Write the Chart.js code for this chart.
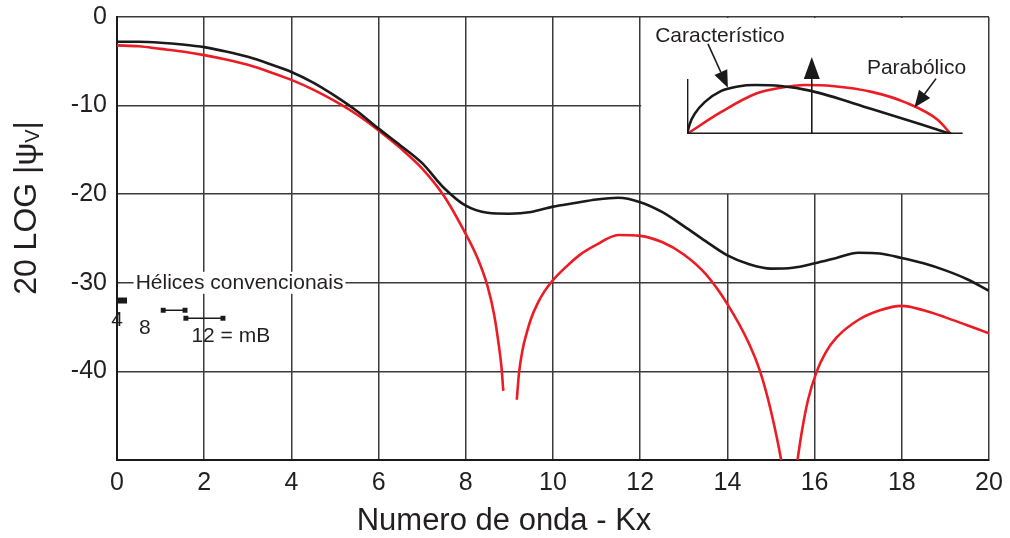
<!DOCTYPE html>
<html>
<head>
<meta charset="utf-8">
<script src="https://cdn.jsdelivr.net/npm/chart.js@4.4.0/dist/chart.umd.min.js"></script>
<style>
  body { margin: 0; background: #fff; }
  #wrap { position: relative; width: 1010px; height: 538px; }
  #inset { position: absolute; }
</style>
</head>
<body>
<div id="wrap">
  <canvas id="main" width="1010" height="538"></canvas>
  <canvas id="inset" width="347" height="176"></canvas>
</div>
<script>
const FONT = '"Liberation Sans", Arial, sans-serif';

// main curves (Kx, dB)
const kxBlack = [0, 0.5, 1, 1.5, 2, 2.5, 3, 3.5, 4, 4.5, 5, 5.5, 6, 6.5, 7, 7.5, 8, 8.5, 9, 9.5, 10, 10.5, 11, 11.5, 12, 12.5, 13, 13.5, 14, 14.5, 15, 15.5, 16, 16.5, 17, 17.5, 18, 18.5, 19, 19.5, 20];
const dbBlack = [-2.8, -2.8, -2.9, -3.1, -3.4, -3.9, -4.5, -5.3, -6.2, -7.4, -8.9, -10.6, -12.6, -14.5, -16.5, -19.3, -21.3, -22.1, -22.2, -22.0, -21.4, -21.0, -20.6, -20.4, -20.9, -22.0, -23.6, -25.3, -26.9, -27.9, -28.4, -28.3, -27.8, -27.2, -26.6, -26.7, -27.2, -27.8, -28.6, -29.6, -30.9];

const kxRed = [0, 0.5, 1, 1.5, 2, 2.5, 3, 3.5, 4, 4.5, 5, 5.5, 6, 6.5, 7, 7.5, 8, 8.25, 8.5, 8.65, 8.75, 8.82, 8.86, 9.0,
  9.17, 9.22, 9.3, 9.4, 9.5, 9.65, 9.8, 10, 10.3, 10.6, 11, 11.5, 12, 12.5, 13, 13.5, 14, 14.5, 14.75, 15, 15.25, 15.35, 15.5,
  15.6, 15.7, 15.85, 16.05, 16.25, 16.5, 17, 17.5, 18, 18.5, 19, 19.5, 20];
const dbRed = [-3.2, -3.3, -3.6, -3.9, -4.3, -4.8, -5.4, -6.2, -7.1, -8.2, -9.5, -11.0, -12.8, -14.8, -17.1, -20.2, -24.5, -27.0, -30.4, -33.6, -36.8, -39.6, -42.2, null,
  -43.2, -40.2, -37.6, -35.6, -34.0, -32.3, -31.0, -29.7, -28.2, -26.9, -25.7, -24.6, -24.7, -25.4, -26.8, -29.0, -32.4, -36.9, -40, -44.5, -50.5, -54, -54,
  -50.3, -47.0, -43.2, -40.0, -37.9, -36.2, -34.2, -33.1, -32.6, -33.1, -33.9, -34.8, -35.7];

// "Hélices convencionais" key marks
const keyBar = [[0, -32], [0.23, -32]];
const keySeg8 = [[1.06, -33.1], [1.56, -33.1]];
const keySeg12 = [[1.58, -34.0], [2.43, -34.0]];

const xTicks = [0, 2, 4, 6, 8, 10, 12, 14, 16, 18, 20];
const yTicks = [0, -10, -20, -30, -40];

// inset schematic (normalised aperture position, amplitude)
const insetXChar = [0, 0.01, 0.029, 0.067, 0.13, 0.193, 0.258, 0.356, 0.47, 0.70, 0.886, 1.0];
const insetYChar = [0, 0.2, 0.41, 0.65, 0.88, 0.97, 1.0, 0.98, 0.88, 0.51, 0.20, 0];
const insetXPar = [0, 0.13, 0.26, 0.35, 0.45, 0.55, 0.7, 0.83, 0.95, 1.0];
const insetYPar = [0, 0.45, 0.82, 0.94, 1.0, 0.98, 0.86, 0.64, 0.29, 0];

const toPts = (xs, ys) => xs.map((x, i) => ({x: x, y: ys[i]}));
const pairPts = arr => arr.map(p => ({x: p[0], y: p[1]}));

const mainDecor = {
  id: 'mainDecor',
  beforeDatasetsDraw(chart) {
    const ctx = chart.ctx, x = chart.scales.x, y = chart.scales.y;
    ctx.save();
    ctx.fillStyle = '#fff';
    // blank area behind inset
    const l = x.getPixelForValue(12) + 1, r = x.getPixelForValue(20) - 1;
    const t = y.getPixelForValue(0) + 1, b = y.getPixelForValue(-20) - 1;
    ctx.fillRect(l, t, r - l, b - t);
    // blank box behind key title
    ctx.font = '21px ' + FONT;
    const w = ctx.measureText('Hélices convencionais').width;
    const cx = x.getPixelForValue(2.81), cy = y.getPixelForValue(-30);
    ctx.fillRect(cx - w / 2 - 2, cy - 11, w + 4, 22);
    ctx.restore();
  },
  afterDatasetsDraw(chart) {
    const ctx = chart.ctx, x = chart.scales.x, y = chart.scales.y;
    ctx.save();
    ctx.fillStyle = '#231f20';
    ctx.textAlign = 'center';
    ctx.textBaseline = 'middle';
    ctx.font = '21px ' + FONT;
    ctx.fillText('Hélices convencionais', x.getPixelForValue(2.81), y.getPixelForValue(-30));
    ctx.fillText('4', x.getPixelForValue(0), y.getPixelForValue(-34.2));
    ctx.fillText('8', x.getPixelForValue(0.64), y.getPixelForValue(-35.1));
    ctx.fillText('12 = mB', x.getPixelForValue(2.61), y.getPixelForValue(-36.0));
    ctx.restore();
  },
  afterDraw(chart) {
    const ctx = chart.ctx;
    ctx.save();
    ctx.fillStyle = '#231f20';
    ctx.textBaseline = 'middle';
    ctx.textAlign = 'center';
    ctx.font = '31px ' + FONT;
    ctx.fillText('Numero de onda - Kx', 504, 521);
    // y title with subscript
    ctx.translate(27, 208);
    ctx.rotate(-Math.PI / 2);
    const big = '32px ' + FONT, small = '20px ' + FONT;
    const p1 = '20 LOG |\u03c8', p2 = 'V', p3 = '|';
    ctx.font = big; const w1 = ctx.measureText(p1).width, w3 = ctx.measureText(p3).width;
    ctx.font = small; const w2 = ctx.measureText(p2).width;
    let sx = -(w1 + w2 + w3) / 2;
    ctx.textAlign = 'left';
    ctx.font = big; ctx.fillText(p1, sx, 0); sx += w1;
    ctx.font = small; ctx.fillText(p2, sx, 6); sx += w2;
    ctx.font = big; ctx.fillText(p3, sx, 0);
    ctx.restore();
  }
};

const mainChart = new Chart(document.getElementById('main').getContext('2d'), {
  type: 'line',
  data: {
    datasets: [
      {
        label: 'Característico',
        data: toPts(kxBlack, dbBlack),
        borderColor: '#1a1a1a',
        borderWidth: 2.6,
        pointRadius: 0,
        cubicInterpolationMode: 'monotone'
      },
      {
        label: 'Parabólico',
        data: toPts(kxRed, dbRed),
        borderColor: '#ec1c24',
        borderWidth: 2.6,
        pointRadius: 0,
        spanGaps: false,
        cubicInterpolationMode: 'monotone'
      },
      {
        label: 'mB 4',
        data: pairPts(keyBar),
        borderColor: '#1a1a1a',
        borderWidth: 6,
        borderCapStyle: 'butt',
        pointRadius: 0
      },
      {
        label: 'mB 8',
        data: pairPts(keySeg8),
        borderColor: '#1a1a1a',
        borderWidth: 1.5,
        pointStyle: 'rect',
        pointRadius: 3.5,
        pointBackgroundColor: '#1a1a1a',
        pointBorderWidth: 0
      },
      {
        label: 'mB 12',
        data: pairPts(keySeg12),
        borderColor: '#1a1a1a',
        borderWidth: 1.5,
        pointStyle: 'rect',
        pointRadius: 3.5,
        pointBackgroundColor: '#1a1a1a',
        pointBorderWidth: 0
      }
    ]
  },
  options: {
    responsive: false,
    animation: false,
    layout: { padding: { left: 0, right: 21, top: 17, bottom: 0 } },
    plugins: {
      legend: { display: false },
      tooltip: { enabled: false }
    },
    scales: {
      x: {
        type: 'linear',
        min: 0,
        max: 20,
        afterBuildTicks: s => { s.ticks = xTicks.map(v => ({value: v})); },
        afterFit: s => { s.height = 78; s.paddingLeft = 0; s.paddingRight = 0; },
        grid: { color: '#3a3a3a', lineWidth: 1.5, drawTicks: false },
        border: { color: '#1a1a1a', width: 2 },
        ticks: { color: '#231f20', font: { family: FONT, size: 25 }, padding: 8, maxRotation: 0 }
      },
      y: {
        type: 'linear',
        min: -50,
        max: 0,
        afterBuildTicks: s => { s.ticks = yTicks.concat([-50]).map(v => ({value: v})); },
        afterFit: s => { s.width = 117; s.paddingTop = 0; s.paddingBottom = 0; },
        grid: { color: '#3a3a3a', lineWidth: 1.5, drawTicks: false },
        border: { color: '#1a1a1a', width: 2 },
        ticks: {
          color: '#231f20',
          font: { family: FONT, size: 25 },
          padding: 10,
          callback: v => (yTicks.includes(v) ? String(v) : '')
        }
      }
    }
  },
  plugins: [mainDecor]
});

// place inset over the blank box
const mx = mainChart.scales.x, my = mainChart.scales.y;
const insetEl = document.getElementById('inset');
insetEl.style.left = mx.getPixelForValue(12) + 'px';
insetEl.style.top = my.getPixelForValue(0) + 'px';

function arrow(ctx, x0, y0, x1, y1, len, half) {
  const a = Math.atan2(y1 - y0, x1 - x0);
  const bx = x1 - len * Math.cos(a), by = y1 - len * Math.sin(a);
  ctx.beginPath();
  ctx.moveTo(x0, y0);
  ctx.lineTo(bx, by);
  ctx.stroke();
  ctx.beginPath();
  ctx.moveTo(x1, y1);
  ctx.lineTo(bx + half * Math.sin(a), by - half * Math.cos(a));
  ctx.lineTo(bx - half * Math.sin(a), by + half * Math.cos(a));
  ctx.closePath();
  ctx.fill();
}

const insetDecor = {
  id: 'insetDecor',
  afterDatasetsDraw(chart) {
    const ctx = chart.ctx, x = chart.scales.x, y = chart.scales.y;
    const px = v => x.getPixelForValue(v), py = v => y.getPixelForValue(v);
    ctx.save();
    ctx.strokeStyle = '#1a1a1a';
    ctx.fillStyle = '#1a1a1a';
    ctx.lineWidth = 1.6;
    arrow(ctx, px(0.473), py(0), px(0.473), py(1.57), 22, 8);
    arrow(ctx, px(0.0795), py(1.84), px(0.155), py(0.945), 17, 7);
    arrow(ctx, px(0.944), py(1.13), px(0.862), py(0.54), 17, 7);
    ctx.fillStyle = '#231f20';
    ctx.textAlign = 'center';
    ctx.textBaseline = 'middle';
    ctx.font = '21px ' + FONT;
    ctx.fillText('Característico', px(0.125), py(2.0));
    ctx.fillText('Parabólico', px(0.87), py(1.35));
    ctx.restore();
  }
};

new Chart(insetEl.getContext('2d'), {
  type: 'line',
  data: {
    datasets: [
      { data: pairPts([[0, 0], [1.045, 0]]), borderColor: '#1a1a1a', borderWidth: 2.8, pointRadius: 0 },
      { data: pairPts([[0, 0], [0, 1.12]]), borderColor: '#1a1a1a', borderWidth: 2.8, pointRadius: 0 },
      { data: toPts(insetXChar, insetYChar), borderColor: '#1a1a1a', borderWidth: 2.6, pointRadius: 0, cubicInterpolationMode: 'monotone' },
      { data: toPts(insetXPar, insetYPar), borderColor: '#ec1c24', borderWidth: 2.6, pointRadius: 0, cubicInterpolationMode: 'monotone' }
    ]
  },
  options: {
    responsive: false,
    animation: false,
    layout: { padding: { left: 47, right: 23, top: 38.6, bottom: 59 } },
    plugins: { legend: { display: false }, tooltip: { enabled: false } },
    scales: {
      x: { type: 'linear', min: 0, max: 1.05, display: false },
      y: { type: 'linear', min: 0, max: 1.6, display: false }
    }
  },
  plugins: [insetDecor]
});
</script>
</body>
</html>
